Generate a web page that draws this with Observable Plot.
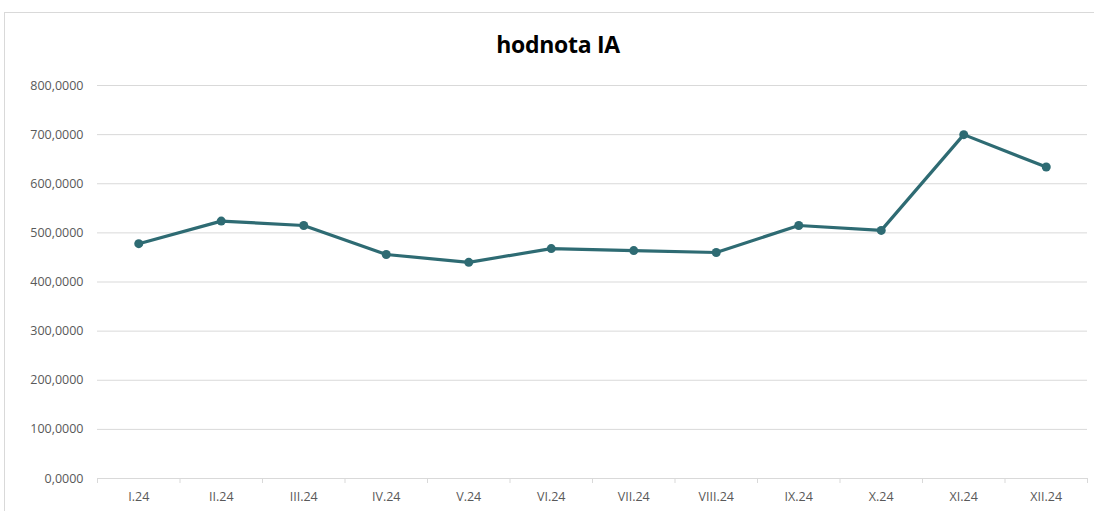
<!DOCTYPE html>
<html>
<head>
<meta charset="utf-8">
<script src="https://cdn.jsdelivr.net/npm/d3@7"></script>
<script src="https://cdn.jsdelivr.net/npm/@observablehq/plot@0.6"></script>
<style>
  html, body { margin: 0; padding: 0; background: #fff; }
  body { width: 1094px; height: 511px; position: relative; overflow: hidden; font-family: "Open Sans", sans-serif; }
  #frame { position: absolute; left: 4px; top: 12px; width: 1100px; height: 520px; border: 1px solid #d9d9d9; box-sizing: border-box; }
  #title { position: absolute; left: 0; top: 27px; width: 1116px; text-align: center; font-size: 23px; font-weight: 700; color: #000; line-height: 34px; letter-spacing: -0.3px; }
  #chart { position: absolute; left: 0; top: 70px; }
</style>
</head>
<body>
<div id="frame"></div>
<div id="title">hodnota IA</div>
<div id="chart"></div>
<script>
const months = ["I.24","II.24","III.24","IV.24","V.24","VI.24","VII.24","VIII.24","IX.24","X.24","XI.24","XII.24"];
const values = [478, 524, 515, 456, 440, 468, 464, 460, 515, 505, 700, 634];
const yTicks = [0, 100, 200, 300, 400, 500, 600, 700, 800];

const data = months.map((m, i) => ({month: m, idx: i + 0.5, value: values[i]}));
const boundaries = d3.range(0, months.length + 1);
const centers = months.map((m, i) => i + 0.5);
const fmt = v => v.toFixed(4).replace(".", ",");
const color = "#2e6b73";

const chart = Plot.plot({
  width: 1094,
  height: 441,
  marginLeft: 97,
  marginRight: 7,
  marginTop: 15,
  marginBottom: 33,
  style: {fontFamily: "'Open Sans', sans-serif", fontSize: "12px", color: "#595959", background: "transparent"},
  x: {domain: [0, months.length], axis: null, label: null},
  y: {domain: [0, 800], axis: null, label: null},
  marks: [
    Plot.gridY(yTicks.filter(d => d > 0), {stroke: "#d9d9d9", strokeOpacity: 1, strokeWidth: 1}),
    Plot.axisY(yTicks, {tickSize: 0, tickPadding: 14, tickFormat: fmt, fill: "#595959", fontSize: 12.5, label: null}),
    Plot.ruleY([0], {stroke: "#d9d9d9", strokeWidth: 1}),
    Plot.axisX(boundaries, {tickSize: 5, stroke: "#d9d9d9", tickFormat: () => "", anchor: "bottom", label: null}),
    Plot.axisX(centers, {tickSize: 0, tickPadding: 14, tickFormat: d => months[Math.round(d - 0.5)], fill: "#595959", fontSize: 12.5, anchor: "bottom", label: null}),
    Plot.line(data, {x: "idx", y: "value", stroke: color, strokeWidth: 3.2, curve: "linear"}),
    Plot.dot(data, {x: "idx", y: "value", r: 4.5, fill: color, stroke: null})
  ]
});
document.getElementById("chart").appendChild(chart);
</script>
</body>
</html>
